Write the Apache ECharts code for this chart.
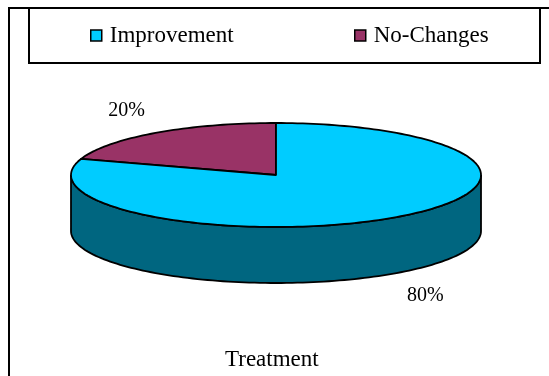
<!DOCTYPE html>
<html>
<head>
<meta charset="utf-8">
<script src="https://cdn.jsdelivr.net/npm/echarts@6/dist/echarts.min.js"></script>
<style>
    html, body { margin: 0; padding: 0; background: #fff; }
    #main { width: 549px; height: 376px; }
</style>
</head>
<body>
<div id="main"></div>
<script>
'use strict';

// chart data
var categories = ['Improvement', 'No-Changes'];
var values = [80, 20];
var pctLabels = ['80%', '20%'];
var topColors = ['#00CCFF', '#993366'];
var sideColors = ['#006680', '#4D1A33'];
var axisTitle = 'Treatment';

// pie geometry (layout only)
var CX = 276, CY = 175, RX = 205, RY = 52, DEPTH = 56;
var FONT = '"Liberation Serif", "Times New Roman", serif';

var total = values.reduce(function(a, b) { return a + b; }, 0);

// angle measured clockwise from 12 o'clock, in degrees
function pt(deg, dy) {
    var r = deg * Math.PI / 180;
    return [CX + RX * Math.sin(r), CY - RY * Math.cos(r) + (dy || 0)];
}

function arcPoints(a, b, dy) {
    var pts = [];
    var n = Math.max(2, Math.ceil(Math.abs(b - a) / 1.5));
    for (var i = 0; i <= n; i++) {
        pts.push(pt(a + (b - a) * i / n, dy));
    }
    return pts;
}

function sliceRange(idx) {
    var start = 0;
    for (var i = 0; i < idx; i++) start += values[i] / total * 360;
    return [start, start + values[idx] / total * 360];
}

function makeRender(idx) {
    return function(params, api) {
        var rg = sliceRange(idx);
        var children = [];
        // visible front wall: part of the slice between 90 and 270 degrees
        var s = Math.max(rg[0], 90), e = Math.min(rg[1], 270);
        if (e > s) {
            var topEdge = arcPoints(s, e, 0);
            var botEdge = arcPoints(e, s, DEPTH);
            children.push({
                type: 'polygon',
                shape: { points: topEdge.concat(botEdge) },
                style: { fill: sideColors[idx], stroke: '#000', lineWidth: 1.8 }
            });
        }
        // top face
        var face = [[CX, CY]].concat(arcPoints(rg[0], rg[1], 0));
        children.push({
            type: 'polygon',
            shape: { points: face },
            style: { fill: topColors[idx], stroke: '#000', lineWidth: 1.8, lineJoin: 'round' }
        });
        // percentage label on an outer ellipse
        var mid = (rg[0] + rg[1]) / 2 * Math.PI / 180;
        var lx = CX + RX * 1.24 * Math.sin(mid);
        var ly = CY - RY * 1.53 * Math.cos(mid) + (Math.cos(mid) < 0 ? DEPTH : 0);
        children.push({
            type: 'text',
            x: lx,
            y: ly,
            style: {
                text: pctLabels[idx],
                fill: '#000',
                font: '20px ' + FONT,
                align: 'center',
                verticalAlign: 'middle'
            }
        });
        return { type: 'group', children: children };
    };
}

var myChart = echarts.init(document.getElementById('main'));

var legendText = { fontFamily: FONT, fontSize: 23, color: '#000', padding: [0, 0, 0, 3] };

var option = {
    backgroundColor: '#fff',
    animation: false,
    title: {
        text: axisTitle,
        left: 220,
        top: 343,
        textStyle: { fontFamily: FONT, fontSize: 23, fontWeight: 'normal', color: '#000' }
    },
    legend: [{
        data: [categories[0]],
        left: 85,
        top: 19,
        icon: 'rect',
        itemWidth: 11,
        itemHeight: 11,
        itemStyle: { borderColor: '#000', borderWidth: 1.5 },
        textStyle: legendText
    }, {
        data: [categories[1]],
        left: 349,
        top: 19,
        icon: 'rect',
        itemWidth: 11,
        itemHeight: 11,
        itemStyle: { borderColor: '#000', borderWidth: 1.5 },
        textStyle: legendText
    }],
    graphic: [{
        type: 'polyline',
        shape: { points: [[9, 376], [9, 8], [549, 8]] },
        style: { fill: null, stroke: '#000', lineWidth: 2 }
    }, {
        type: 'rect',
        shape: { x: 29, y: 8, width: 511, height: 55 },
        style: { fill: null, stroke: '#000', lineWidth: 2 }
    }],
    series: [{
        // back slice first so the front wall lies on top
        name: categories[1],
        type: 'custom',
        coordinateSystem: 'none',
        itemStyle: { color: topColors[1] },
        data: [values[1]],
        renderItem: makeRender(1)
    }, {
        name: categories[0],
        type: 'custom',
        coordinateSystem: 'none',
        itemStyle: { color: topColors[0] },
        data: [values[0]],
        renderItem: makeRender(0)
    }]
};
myChart.setOption(option);
</script>
</body>
</html>
